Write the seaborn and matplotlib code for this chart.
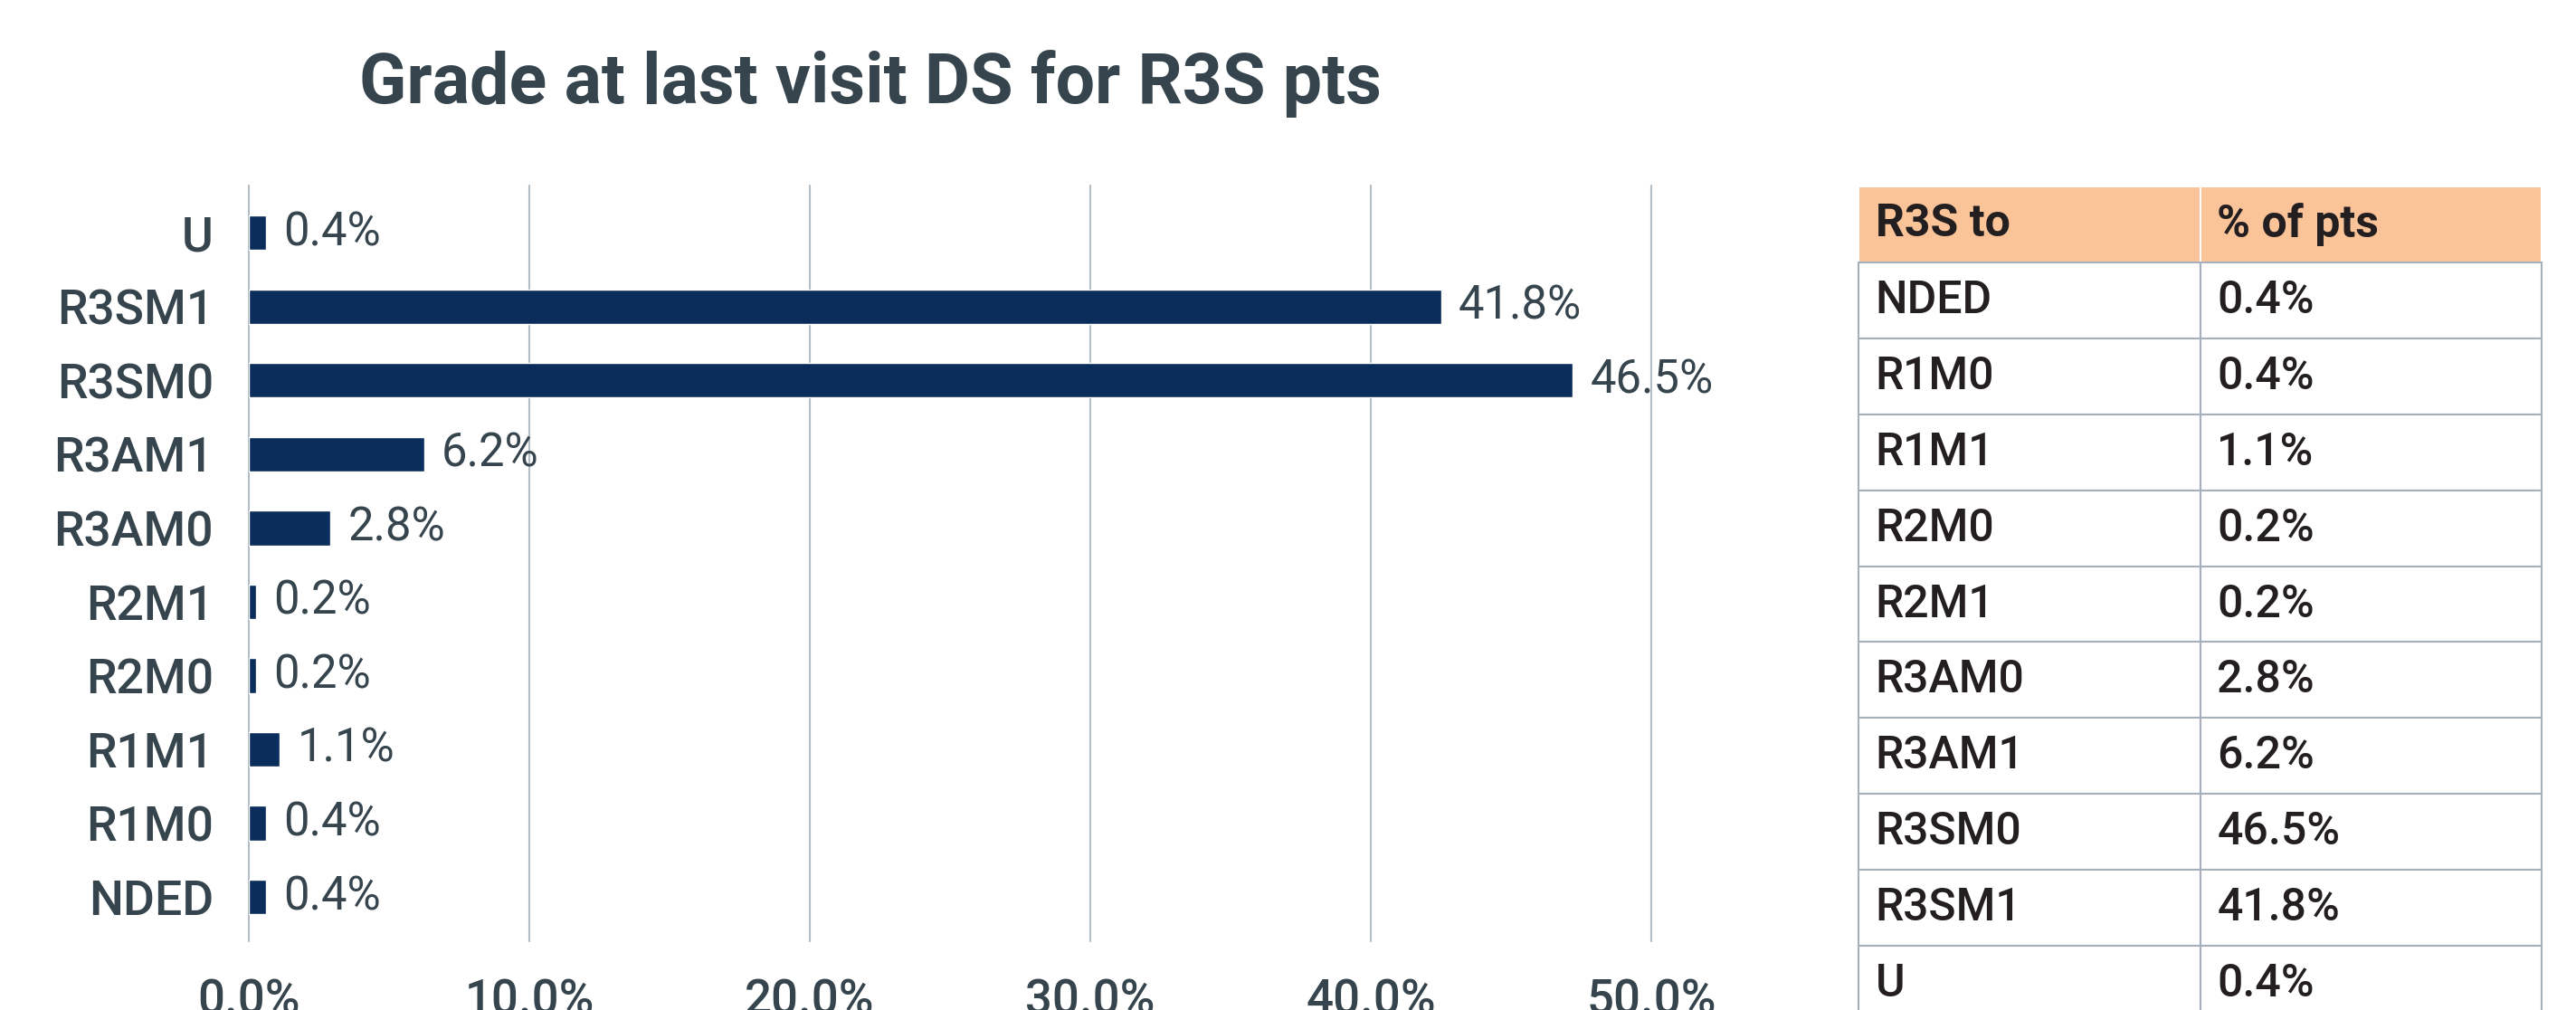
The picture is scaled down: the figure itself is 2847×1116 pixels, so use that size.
import matplotlib
matplotlib.use("Agg")
import matplotlib.pyplot as plt
import seaborn as sns
import pandas as pd

# ---- data ----
categories = ["U", "R3SM1", "R3SM0", "R3AM1", "R3AM0", "R2M1", "R2M0", "R1M1", "R1M0", "NDED"]
bar_values = [0.6, 42.5, 47.2, 6.25, 2.9, 0.25, 0.25, 1.1, 0.6, 0.6]   # bar lengths as drawn (%)
bar_labels = ["0.4%", "41.8%", "46.5%", "6.2%", "2.8%", "0.2%", "0.2%", "1.1%", "0.4%", "0.4%"]
x_ticks = [0, 10, 20, 30, 40, 50]
x_tick_labels = ["0.0%", "10.0%", "20.0%", "30.0%", "40.0%", "50.0%"]
title = "Grade at last visit DS for R3S pts"

table_header = ["R3S to", "% of pts"]
table_grades = ["NDED", "R1M0", "R1M1", "R2M0", "R2M1", "R3AM0", "R3AM1", "R3SM0", "R3SM1", "U"]
table_pcts = ["0.4%", "0.4%", "1.1%", "0.2%", "0.2%", "2.8%", "6.2%", "46.5%", "41.8%", "0.4%"]

# ---- style ----
BAR = "#0B2D5B"
TXT = "#35444D"
GRID = "#B3BDC5"
PEACH = "#FAC398"
TBL_TXT = "#231F20"
TBL_EDGE = "#A5B0BA"

sns.set_theme(style="white")
plt.rcParams["font.family"] = ["Roboto", "DejaVu Sans"]

W, H = 2847, 1116
fig = plt.figure(figsize=(W / 100, H / 100), dpi=100)

ax = fig.add_axes([275 / W, 76 / H, 1550 / W, 835 / H])
df = pd.DataFrame({"grade": categories, "pct": bar_values})
sns.barplot(data=df, x="pct", y="grade", orient="h", color=BAR, saturation=1,
            width=0.47, ax=ax, order=categories)

ax.set_xlim(0, 50)
ax.set_ylim(9.6, -0.64)
ax.set_xticks(x_ticks)
ax.set_xticklabels(x_tick_labels)
ax.set_xlabel("")
ax.set_ylabel("")
ax.set_axisbelow(True)
ax.xaxis.grid(True, color=GRID, linewidth=1.5)
ax.yaxis.grid(False)
for gl in ax.get_xgridlines():
    gl.set_clip_on(False)
for s in ax.spines.values():
    s.set_visible(False)
ax.tick_params(axis="x", length=0, pad=29, labelsize=38, labelcolor=TXT)
ax.tick_params(axis="y", length=0, pad=28, labelsize=38.5, labelcolor=TXT)
for lab in ax.get_xticklabels() + ax.get_yticklabels():
    lab.set_fontweight("medium")

ax.bar_label(ax.containers[0], labels=bar_labels, padding=14, fontsize=36.5,
             color=TXT, fontweight="normal")

fig.text(397 / W, 1 - 114 / H, title, ha="left", va="baseline",
         fontsize=55.5, fontweight="bold", color=TXT)

# ---- table ----
tax = fig.add_axes([2054 / W, (H - 1129) / H, 755 / W, 923 / H])
tax.axis("off")
cell_text = [[g, p] for g, p in zip(table_grades, table_pcts)]
tbl = tax.table(cellText=cell_text, colLabels=table_header, bbox=[0, 0, 1, 1],
                cellLoc="left", colLoc="left")
tbl.auto_set_font_size(False)
for (r, c), cell in tbl.get_celld().items():
    cell.PAD = 0.05
    cell.set_linewidth(1.5)
    txt = cell.get_text()
    txt.set_fontsize(36)
    txt.set_color(TBL_TXT)
    if r == 0:
        cell.set_facecolor(PEACH)
        cell.set_edgecolor("white")
        txt.set_fontweight("bold")
    else:
        cell.set_facecolor("white")
        cell.set_edgecolor(TBL_EDGE)
        txt.set_fontweight("medium")

fig.savefig("out.png", dpi=100, facecolor="white")
